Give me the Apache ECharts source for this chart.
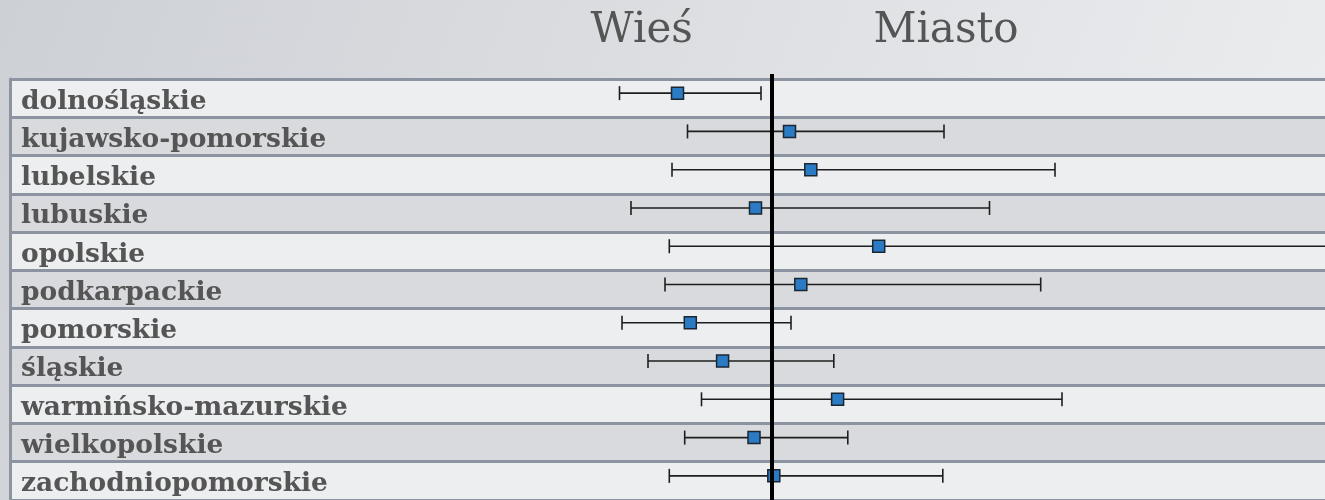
<!DOCTYPE html>
<html><head><meta charset="utf-8">
<script src="https://cdn.jsdelivr.net/npm/echarts@6/dist/echarts.min.js"></script>
<style>html,body{margin:0;padding:0;}#c{width:1325px;height:500px;}</style>
</head><body><div id="c"></div>
<script>
const categories = ['dolnośląskie','kujawsko-pomorskie','lubelskie','lubuskie','opolskie','podkarpackie','pomorskie','śląskie','warmińsko-mazurskie','wielkopolskie','zachodniopomorskie'];
const means = [-0.945, 0.175, 0.388, -0.165, 1.067, 0.288, -0.817, -0.494, 0.656, -0.18, 0.018];
const lows  = [-1.525, -0.845, -1.0, -1.41, -1.027, -1.07, -1.5, -1.24, -0.705, -0.873, -1.027];
const highs = [-0.11, 1.72, 2.83, 2.175, 6.0, 2.687, 0.19, 0.618, 2.9, 0.758, 1.708];
const zeroValue = [0];
const headings = ['Wieś', 'Miasto'];

const chart = echarts.init(document.getElementById('c'));
const serif = 'DejaVu Serif';
const option = {
  animation: false,
  backgroundColor: {type:'linear', x:0, y:0, x2:1, y2:1,
    colorStops:[{offset:0,color:'#cdd0d5'},{offset:1,color:'#eeeff1'}]},
  graphic: [
    {type:'text', x:641.7, y:31, z:10, style:{text:headings[0], fontFamily:serif, fontSize:42, fill:'#555', align:'center', verticalAlign:'middle'}},
    {type:'text', x:946, y:31, z:10, style:{text:headings[1], fontFamily:serif, fontSize:42, fill:'#555', align:'center', verticalAlign:'middle'}}
  ],
  grid: {left:10, right:0, top:79, height:422.4, containLabel:false},
  xAxis: {type:'value', min:-7.62, max:5.53, show:false},
  yAxis: {
    type:'category', data:categories, inverse:true,
    axisLine:{show:true, onZero:false, lineStyle:{color:'#8b94a0', width:3}},
    axisTick:{show:false},
    splitLine:{show:true, lineStyle:{color:'#8b94a0', width:3}},
    splitArea:{show:true, areaStyle:{color:['#edeef0','#d9dadd']}},
    axisLabel:{inside:true, interval:0, margin:11,
      formatter: v => '{a|' + v + '}',
      rich:{a:{fontFamily:serif, fontWeight:'bold', fontSize:26.5, color:'#555', padding:[7,0,0,0]}}
    }
  },
  series: [
    {
      type:'custom', coordinateSystem:'cartesian2d', clip:true, z:2,
      data: categories.map((c,i)=>[lows[i], highs[i], c]),
      encode:{x:[0,1], y:2},
      renderItem:(params, api)=>{
        const idx = api.value(2);
        const p1 = api.coord([api.value(0), idx]);
        const p2 = api.coord([api.value(1), idx]);
        const cy = p1[1] - 5, h = 7;
        const st = {stroke:'#1e1e1e', lineWidth:1.6};
        return {type:'group', children:[
          {type:'line', shape:{x1:p1[0], y1:cy, x2:p2[0], y2:cy}, style:st},
          {type:'line', shape:{x1:p1[0], y1:cy-h, x2:p1[0], y2:cy+h}, style:st},
          {type:'line', shape:{x1:p2[0], y1:cy-h, x2:p2[0], y2:cy+h}, style:st}
        ]};
      }
    },
    {
      type:'scatter', z:3, symbol:'rect', symbolSize:12, symbolOffset:[0,-5],
      data: categories.map((c,i)=>[means[i], c]),
      itemStyle:{color:'#2b7bc4', borderColor:'#1b2633', borderWidth:1.5, opacity:1}
    },
    {
      type:'custom', coordinateSystem:'cartesian2d', clip:false, z:4,
      data: zeroValue.map(v=>[v, categories[0]]),
      encode:{x:0, y:1},
      renderItem:(params, api)=>{
        const x = api.coord([api.value(0), 0])[0];
        const cs = params.coordSys;
        return {type:'line', shape:{x1:x, y1:cs.y-5, x2:x, y2:cs.y+cs.height}, style:{stroke:'#000', lineWidth:4}};
      }
    }
  ]
};
chart.setOption(option);
</script></body></html>
